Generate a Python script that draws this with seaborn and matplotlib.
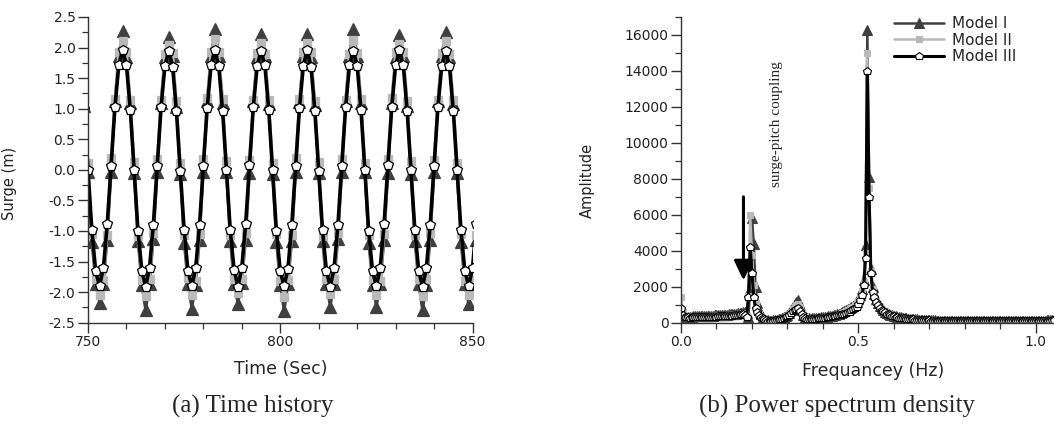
import matplotlib
matplotlib.use("Agg")
import matplotlib.pyplot as plt
import seaborn as sns
from matplotlib.ticker import MultipleLocator, FormatStrFormatter

# ---------------- data: (a) time history ----------------
time_s = list(range(749, 852))          # 1 s sampling, 749 .. 851 s

surge_model1 = [
    1.05, -0.04, -1.18, -1.87, -2.17, -1.86, -1.14, -0.03, 1.13, 1.86,
    2.27, 1.85, 1.09, -0.05, -1.17, -1.88, -2.30, -1.87, -1.13, -0.04, 1.10, 1.84,
    2.18, 1.86, 1.03, -0.06, -1.19, -1.86, -2.27, -1.88, -1.15, -0.03, 1.13, 1.87,
    2.31, 1.87, 1.10, -0.04, -1.16, -1.87, -2.19, -1.85, -1.14, -0.05, 1.12, 1.85,
    2.22, 1.86, 1.07, -0.06, -1.18, -1.88, -2.31, -1.87, -1.16, -0.04, 1.11, 1.86,
    2.22, 1.85, 1.06, -0.05, -1.17, -1.87, -2.24, -1.86, -1.13, -0.03, 1.13, 1.87,
    2.31, 1.87, 1.10, -0.04, -1.19, -1.88, -2.24, -1.87, -1.15, -0.05, 1.10, 1.85,
    2.20, 1.86, 1.05, -0.06, -1.16, -1.86, -2.30, -1.88, -1.14, -0.04, 1.12, 1.86,
    2.26, 1.85, 1.08, -0.05, -1.18, -1.87, -2.20, -1.86, -1.15,
]
surge_model2 = [
    1.14, 0.12, -1.05, -1.78, -2.04, -1.80, -1.06, 0.19, 1.16, 1.92,
    2.10, 1.93, 1.15, 0.13, -1.08, -1.80, -2.07, -1.79, -1.03, 0.17, 1.14, 1.90,
    2.04, 1.91, 1.13, 0.11, -1.06, -1.77, -2.05, -1.81, -1.05, 0.18, 1.17, 1.93,
    2.14, 1.92, 1.16, 0.14, -1.07, -1.79, -2.02, -1.78, -1.04, 0.16, 1.15, 1.91,
    2.08, 1.90, 1.14, 0.12, -1.05, -1.82, -2.08, -1.80, -1.06, 0.19, 1.16, 1.92,
    2.07, 1.93, 1.12, 0.13, -1.08, -1.78, -2.03, -1.79, -1.04, 0.17, 1.14, 1.90,
    2.13, 1.91, 1.16, 0.11, -1.06, -1.80, -2.05, -1.81, -1.05, 0.18, 1.17, 1.93,
    2.06, 1.92, 1.13, 0.14, -1.07, -1.79, -2.06, -1.78, -1.03, 0.16, 1.15, 1.91,
    2.11, 1.90, 1.15, 0.12, -1.05, -1.81, -2.04, -1.80, -1.06,
]
surge_model3 = [
    1.00, 0.00, -0.99, -1.66, -1.90, -1.61, -0.89, 0.07, 1.02, 1.71,
    1.96, 1.71, 0.98, 0.00, -1.00, -1.65, -1.91, -1.60, -0.90, 0.06, 1.02, 1.70,
    1.95, 1.69, 0.96, -0.02, -0.98, -1.66, -1.90, -1.61, -0.91, 0.07, 1.01, 1.71,
    1.96, 1.70, 0.97, 0.00, -0.99, -1.64, -1.91, -1.60, -0.89, 0.08, 1.03, 1.70,
    1.95, 1.71, 0.98, -0.01, -1.00, -1.66, -1.90, -1.62, -0.90, 0.06, 1.01, 1.70,
    1.96, 1.69, 0.96, -0.02, -0.99, -1.65, -1.91, -1.61, -0.90, 0.07, 1.02, 1.71,
    1.95, 1.70, 0.98, 0.00, -1.00, -1.66, -1.90, -1.60, -0.89, 0.08, 1.03, 1.71,
    1.96, 1.71, 0.97, -0.01, -0.98, -1.65, -1.91, -1.61, -0.90, 0.06, 1.02, 1.70,
    1.95, 1.70, 0.97, -0.01, -0.99, -1.65, -1.90, -1.61, -0.89,
]

# ---------------- data: (b) power spectrum ----------------
freq_hz = [round(i * 0.005, 3) for i in range(211)]   # spectral grid 0 .. 1.05 Hz

amp_model1 = [
    500, 380, 340, 330, 330, 335, 340, 345, 350, 355,
    360, 365, 370, 375, 380, 385, 390, 395, 400, 405,
    410, 415, 420, 425, 430, 440, 450, 460, 470, 480,
    490, 500, 515, 530, 550, 570, 590, 560, 300, 1900,
    5800, 4400, 2000, 1100, 700, 480, 330, 230, 170, 130,
    110, 115, 125, 140, 160, 185, 215, 255, 305, 370,
    450, 560, 700, 860, 1020, 1160, 1260, 1000, 680, 450,
    320, 260, 235, 230, 235, 245, 255, 265, 280, 295,
    310, 325, 340, 360, 380, 400, 425, 450, 480, 510,
    545, 585, 630, 680, 735, 800, 870, 950, 1050, 1170,
    1320, 1550, 1900, 2400, 4300, 16300, 8100, 3000, 2000, 1600,
    1300, 1080, 920, 800, 700, 620, 555, 500, 455, 415,
    385, 355, 330, 310, 290, 272, 256, 242, 230, 218,
    207, 197, 188, 180, 172, 165, 159, 153, 147, 142,
    137, 133, 129, 125, 122, 119, 116, 113, 111, 109,
    107, 105, 103, 102, 100, 99, 98, 97, 96, 95,
    94, 94, 93, 93, 92, 92, 91, 91, 91, 90,
    90, 90, 90, 89, 89, 89, 89, 89, 89, 89,
    89, 89, 89, 89, 90, 90, 90, 90, 91, 91,
    92, 92, 93, 94, 95, 96, 97, 98, 99, 101,
    103, 105, 108, 111, 115, 120, 126, 133, 142, 155,
    170,
]
amp_model2 = [
    1450, 600, 380, 320, 300, 295, 300, 305, 310, 310,
    315, 320, 320, 325, 330, 335, 340, 340, 345, 350,
    355, 360, 365, 370, 375, 385, 395, 405, 415, 425,
    435, 445, 460, 480, 500, 520, 500, 350, 1500, 6000,
    3760, 2100, 1100, 700, 500, 370, 270, 200, 150, 120,
    100, 105, 115, 130, 150, 170, 195, 230, 275, 330,
    400, 490, 600, 740, 880, 990, 1050, 850, 580, 400,
    290, 240, 220, 215, 220, 230, 240, 250, 262, 275,
    290, 305, 320, 335, 355, 375, 395, 420, 450, 480,
    510, 550, 590, 640, 690, 750, 820, 900, 990, 1100,
    1230, 1450, 1750, 2250, 3900, 15000, 7500, 2850, 1850, 1520,
    1230, 1030, 880, 765, 670, 595, 530, 480, 437, 400,
    370, 342, 318, 297, 277, 261, 245, 232, 220, 209,
    198, 188, 180, 172, 165, 158, 152, 146, 141, 136,
    131, 127, 123, 120, 117, 114, 112, 109, 107, 105,
    103, 102, 100, 99, 98, 97, 96, 95, 94, 93,
    92, 92, 91, 91, 90, 90, 90, 89, 89, 89,
    88, 88, 88, 88, 88, 87, 87, 87, 87, 87,
    87, 87, 87, 87, 88, 88, 88, 88, 89, 89,
    90, 90, 91, 92, 93, 94, 95, 96, 97, 98,
    100, 102, 104, 107, 110, 114, 119, 125, 132, 142,
    155,
]
amp_model3 = [
    800, 420, 330, 300, 290, 285, 290, 295, 300, 300,
    305, 310, 310, 315, 320, 320, 325, 330, 330, 335,
    340, 345, 350, 355, 360, 365, 370, 380, 390, 400,
    410, 420, 435, 450, 465, 480, 430, 330, 1440, 4220,
    2740, 1440, 820, 600, 450, 330, 250, 180, 140, 110,
    95, 100, 110, 125, 140, 160, 180, 210, 250, 300,
    360, 440, 540, 640, 720, 780, 800, 640, 460, 330,
    260, 220, 205, 200, 205, 215, 225, 235, 245, 255,
    265, 280, 295, 310, 330, 350, 370, 395, 420, 450,
    430, 460, 490, 530, 570, 620, 680, 740, 810, 900,
    1040, 1260, 1540, 2090, 3580, 14000, 7000, 2740, 1720, 1440,
    1170, 980, 840, 730, 640, 570, 510, 460, 420, 385,
    355, 330, 305, 285, 265, 250, 235, 222, 210, 200,
    190, 180, 172, 165, 158, 152, 146, 140, 135, 130,
    126, 122, 118, 115, 112, 110, 108, 106, 104, 102,
    100, 99, 98, 97, 96, 95, 94, 93, 92, 92,
    91, 90, 90, 89, 89, 88, 88, 88, 87, 87,
    87, 86, 86, 86, 86, 85, 85, 85, 85, 85,
    85, 85, 85, 85, 85, 86, 86, 86, 86, 87,
    87, 88, 88, 89, 90, 90, 91, 92, 93, 94,
    95, 97, 99, 101, 104, 107, 111, 116, 122, 130,
    140,
]

model_names = ["Model I", "Model II", "Model III"]

# ---------------- style ----------------
sns.set_style("ticks")
plt.rcParams["font.family"] = ["DejaVu Sans"]
plt.rcParams["axes.unicode_minus"] = False

W, H = 1054, 424
fig = plt.figure(figsize=(W / 100, H / 100), dpi=100)
fig.patch.set_facecolor("white")

ax1 = fig.add_axes([88 / W, 1 - 322.7 / H, (472.5 - 88) / W, (322.7 - 17) / H])
ax2 = fig.add_axes([681 / W, 1 - 322.7 / H, (W - 681) / W, (322.7 - 17) / H])

dark = "#3f3f3f"
light = "#b9b9b9"
styles = [
    dict(color=dark, marker="^", markerfacecolor=dark, markeredgecolor=dark),
    dict(color=light, marker="s", markerfacecolor=light, markeredgecolor=light),
    dict(color="black", marker="p", markerfacecolor="white", markeredgecolor="black"),
]
lw_a = [2.0, 2.0, 2.6]
ms_a = [8.0, 5.8, 7.4]
lw_b = [1.8, 1.8, 2.2]
ms_b = [6.5, 4.5, 6.2]

series_a = [surge_model1, surge_model2, surge_model3]
series_b = [amp_model1, amp_model2, amp_model3]

for i, name in enumerate(model_names):
    sns.lineplot(x=time_s, y=series_a[i], ax=ax1, legend=False, label=name,
                 linewidth=lw_a[i], markersize=ms_a[i], markeredgewidth=0.9,
                 **styles[i])
for i, name in enumerate(model_names):
    sns.lineplot(x=freq_hz, y=series_b[i], ax=ax2, legend=False, label=name,
                 linewidth=lw_b[i], markersize=ms_b[i], markeredgewidth=0.8,
                 **styles[i])

spine_col = "#333333"
for ax in (ax1, ax2):
    sns.despine(ax=ax)
    for s in ("left", "bottom"):
        ax.spines[s].set_color(spine_col)
        ax.spines[s].set_linewidth(1.0)
    ax.tick_params(which="major", direction="out", length=7, width=1.0,
                   color=spine_col, labelsize=10, labelcolor="#222222", pad=2)
    ax.tick_params(which="minor", direction="out", length=4, width=0.9,
                   color=spine_col)
    ax.set_facecolor("white")

# (a) axes
ax1.set_xlim(750, 850)
ax1.set_ylim(-2.5, 2.5)
ax1.xaxis.set_major_locator(MultipleLocator(50))
ax1.xaxis.set_minor_locator(MultipleLocator(10))
ax1.yaxis.set_major_locator(MultipleLocator(0.5))
ax1.yaxis.set_minor_locator(MultipleLocator(0.25))
ax1.yaxis.set_major_formatter(FormatStrFormatter("%.1f"))
ax1.set_xlabel("Time (Sec)", fontsize=12.5)
ax1.xaxis.set_label_coords(0.502, -0.122)

# (b) axes
ax2.set_xlim(0, 1.051)
ax2.set_ylim(0, 17000)
ax2.xaxis.set_major_locator(MultipleLocator(0.5))
ax2.xaxis.set_minor_locator(MultipleLocator(0.1))
ax2.xaxis.set_major_formatter(FormatStrFormatter("%.1f"))
ax2.yaxis.set_major_locator(MultipleLocator(2000))
ax2.yaxis.set_minor_locator(MultipleLocator(1000))
ax2.set_xlabel("Frequancey (Hz)", fontsize=12.5)
ax2.xaxis.set_label_coords(0.515, -0.128)

# rotated y-axis titles placed by their centres
fig.text(9.5 / W, 1 - 183 / H, "Surge (m)", rotation=90, ha="center",
         va="center", fontsize=10.5, color="#222222")
fig.text(587 / W, 1 - 180 / H, "Amplitude", rotation=90, ha="center",
         va="center", fontsize=10.5, color="#222222")

# annotation: arrow + rotated text
ax2.annotate("", xy=(0.176, 2350), xytext=(0.176, 7000),
             arrowprops=dict(arrowstyle="-|>,head_length=0.8,head_width=0.38",
                             mutation_scale=15, lw=2.2, color="black",
                             shrinkA=0, shrinkB=0))
ax2.text(0.27, 11040, "surge-pitch coupling", rotation=90, ha="center",
         va="center", fontsize=11, family=["Liberation Serif", "DejaVu Serif"])

# legend
handles = ax2.get_lines()[:3]
fig.legend(handles=handles, labels=model_names, loc="upper left",
           bbox_to_anchor=(894 / W, 1 - 16 / H), bbox_transform=fig.transFigure,
           frameon=False, fontsize=11, handlelength=3.3, handletextpad=0.5,
           labelspacing=0.1, borderpad=0, borderaxespad=0, numpoints=1)

# captions
serif = ["Liberation Serif", "DejaVu Serif"]
fig.text(252.5 / W, 1 - 406 / H, "(a) Time history", ha="center", va="center",
         fontsize=18, family=serif)
fig.text(836.7 / W, 1 - 406 / H, "(b) Power spectrum density", ha="center",
         va="center", fontsize=18, family=serif)

fig.savefig("out.png", dpi=100, facecolor="white")
